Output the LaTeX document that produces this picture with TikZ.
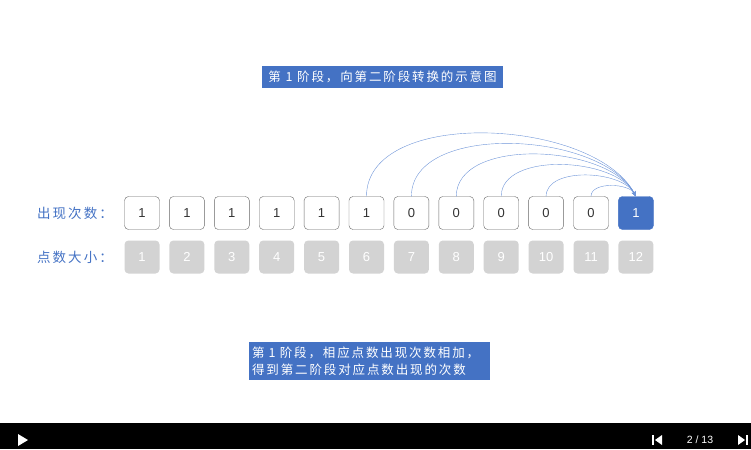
\documentclass[tikz,border=0pt]{standalone}
\usepackage{fontspec}
\setmainfont{Liberation Sans}
\newfontfamily\cjk[LetterSpace=15]{Noto Sans CJK SC}
\usepackage{xcolor}
\usetikzlibrary{arrows.meta}
\definecolor{ppblue}{HTML}{4472C4}
\definecolor{ppgray}{HTML}{D3D3D3}
\definecolor{pparc}{HTML}{6F95D8}

\begin{document}
\begin{tikzpicture}[x=1pt, y=-1pt,
  cnt/.style={draw=black!60, rounded corners=4pt, minimum width=35pt, minimum height=33pt,
    text=black!80, font=\fontsize{13}{13}\selectfont},
  pts/.style={fill=ppgray, rounded corners=4pt, minimum width=35pt, minimum height=33pt,
    text=white, font=\fontsize{13}{13}\selectfont},
  lbl/.style={text=ppblue, font=\cjk\fontsize{13.5}{13.5}\selectfont},
  banner/.style={fill=ppblue, text=white, font=\cjk\fontsize{12.5}{17}\selectfont, align=left},
  arc/.style={pparc, -{Stealth[length=5pt, width=4pt]}}]
  \useasboundingbox (0,0) rectangle (751,449);
  \node[banner, minimum width=241pt, minimum height=22pt, inner sep=1pt] (title) at (382.5,77) {第 1 阶段，向第二阶段转换的示意图};
  \node[lbl] (lcnt) at (75,213) {出现次数：};
  \node[lbl] (lpts) at (75,257) {点数大小：};
  \foreach \i/\v in {1/1,2/1,3/1,4/1,5/1,6/1,7/0,8/0,9/0,10/0,11/0}
    \node[cnt] (c\i) at ({142+44.9*(\i-1)},213) {\v};
  \node[cnt, fill=ppblue, draw=ppblue, text=white] (c12) at ({142+44.9*11},213) {1};
  \foreach \i in {1,...,12}
    \node[pts] (p\i) at ({142+44.9*(\i-1)},257) {\i};
  \foreach \i in {6,...,11}
    \draw[arc] (c\i.north) to[out=90, in=118, looseness=0.85] (c12.north);
  \node[banner, minimum width=241pt, minimum height=38pt, text width=235pt, inner sep=3pt] (note) at (369.5,361)
    {第 1 阶段，相应点数出现次数相加，\\得到第二阶段对应点数出现的次数};
  % player bar
  \fill[black] (0,423) rectangle (751,449);
  \fill[white] (18,434) -- (28,440) -- (18,446) -- cycle;
  \fill[white] (652,435) rectangle (654,445);
  \fill[white] (662,435) -- (655,440) -- (662,445) -- cycle;
  \node[text=white, font=\fontsize{10.5}{10.5}\selectfont] (page) at (700,440) {2 / 13};
  \fill[white] (738,435) -- (745,440) -- (738,445) -- cycle;
  \fill[white] (746,435) rectangle (748,445);
\end{tikzpicture}
\end{document}
